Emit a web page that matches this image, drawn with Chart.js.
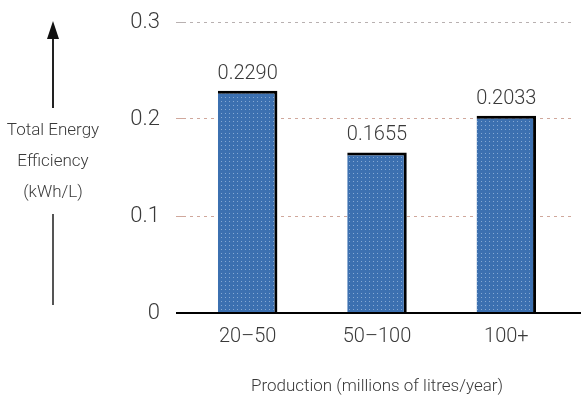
<!DOCTYPE html>
<html>
<head>
<meta charset="utf-8">
<script src="https://cdn.jsdelivr.net/npm/chart.js@4.4.0/dist/chart.umd.min.js"></script>
<style>
  html, body { margin: 0; padding: 0; background: #fff; }
  #wrap { width: 581px; height: 405px; position: relative; }
</style>
</head>
<body>
<div id="wrap"><canvas id="myBarChart"></canvas></div>
<script>
var categories = ['20\u201350', '50\u2013100', '100+'];
var efficiency = [0.2290, 0.1655, 0.2033];
var yTicks = [0, 0.1, 0.2, 0.3];
var xTitle = 'Production (millions of litres/year)';
var yTitle = ['Total Energy', 'Efficiency', '(kWh/L)'];

var face = "Roboto, 'DejaVu Sans', sans-serif";
var textColor = '#3a3a3a';

// dotted blue fill like the printed bars
function dotPattern() {
	var c = document.createElement('canvas');
	c.width = 4; c.height = 4;
	var g = c.getContext('2d');
	g.fillStyle = '#3c70b0';
	g.fillRect(0, 0, 4, 4);
	g.fillStyle = '#86a9d3';
	g.fillRect(1, 1, 1, 1);
	return g.createPattern(c, 'repeat');
}

// value labels over the bars
var valueLabels = {
	id: 'valueLabels',
	afterDatasetsDraw: function (chart) {
		var ctx = chart.ctx;
		var meta = chart.getDatasetMeta(0);
		ctx.save();
		ctx.font = '300 20px ' + face;
		ctx.fillStyle = textColor;
		ctx.textAlign = 'center';
		ctx.textBaseline = 'bottom';
		meta.data.forEach(function (bar, i) {
			ctx.fillText(efficiency[i].toFixed(4), bar.x, bar.y - 7);
		});
		ctx.restore();
	}
};

// left side label with the up arrow
var sideTitle = {
	id: 'sideTitle',
	afterDraw: function (chart) {
		var ctx = chart.ctx;
		var x = 53;
		ctx.save();
		ctx.strokeStyle = '#222';
		ctx.fillStyle = '#111';
		ctx.lineWidth = 2;
		ctx.beginPath();
		ctx.moveTo(x, 108); ctx.lineTo(x, 36);
		ctx.stroke();
		ctx.beginPath();
		ctx.moveTo(x, 21); ctx.lineTo(x - 6, 39); ctx.lineTo(x + 6, 39);
		ctx.closePath(); ctx.fill();
		ctx.strokeStyle = '#555';
		ctx.beginPath();
		ctx.moveTo(x, 214); ctx.lineTo(x, 305);
		ctx.stroke();
		ctx.font = '300 17px ' + face;
		ctx.fillStyle = textColor;
		ctx.textAlign = 'center';
		ctx.textBaseline = 'middle';
		yTitle.forEach(function (t, i) {
			ctx.fillText(t, x, 131 + i * 31);
		});
		// zero line runs a bit past the plot on the right
		var y0 = chart.scales.y.getPixelForValue(0);
		ctx.strokeStyle = '#000';
		ctx.lineWidth = 2;
		ctx.beginPath();
		ctx.moveTo(chart.chartArea.right, y0); ctx.lineTo(581, y0);
		ctx.stroke();
		ctx.restore();
	}
};

new Chart(document.getElementById('myBarChart'), {
	type: 'bar',
	data: {
		labels: categories,
		datasets: [{
			data: efficiency,
			backgroundColor: dotPattern(),
			borderColor: '#000',
			borderWidth: { top: 3, right: 3, left: 0, bottom: 0 },
			borderSkipped: false,
			barPercentage: 0.46,
			categoryPercentage: 1
		}]
	},
	options: {
		responsive: true,
		maintainAspectRatio: false,
		animation: false,
		layout: { padding: { left: 0, right: 10, top: 22, bottom: 0 } },
		plugins: {
			legend: { display: false },
			tooltip: { enabled: false }
		},
		scales: {
			x: {
				grid: { display: false },
				border: { color: '#000', width: 2 },
				ticks: { color: textColor, font: { family: face, size: 20, weight: 300 }, padding: 4 },
				title: {
					display: true,
					text: xTitle,
					color: textColor,
					font: { family: face, size: 17, weight: 300 },
					padding: { top: 28, bottom: 8 }
				},
				afterFit: function (scale) { scale.height = 92; }
			},
			y: {
				min: 0,
				max: 0.3,
				afterBuildTicks: function (scale) {
					scale.ticks = yTicks.map(function (v) { return { value: v }; });
				},
				grid: {
					color: function (c) {
						if (!c.tick) return '#ccc';
						if (c.tick.value === 0) return '#000';
						return c.tick.value === 0.3 ? '#b8b0b0' : '#d0a89c';
					},
					lineWidth: function (c) { return c.tick && c.tick.value === 0 ? 2 : 1; },
					tickLength: 7
				},
				border: { display: false, dash: [3, 4] },
				ticks: {
					color: textColor,
					font: { family: face, size: 22, weight: 300 },
					padding: 16,
					callback: function (v) { return String(v); }
				},
				afterFit: function (scale) {
					scale.width = 183;
					scale.paddingTop = 0;
					scale.paddingBottom = 0;
				}
			}
		}
	},
	plugins: [valueLabels, sideTitle]
});
</script>
</body>
</html>
